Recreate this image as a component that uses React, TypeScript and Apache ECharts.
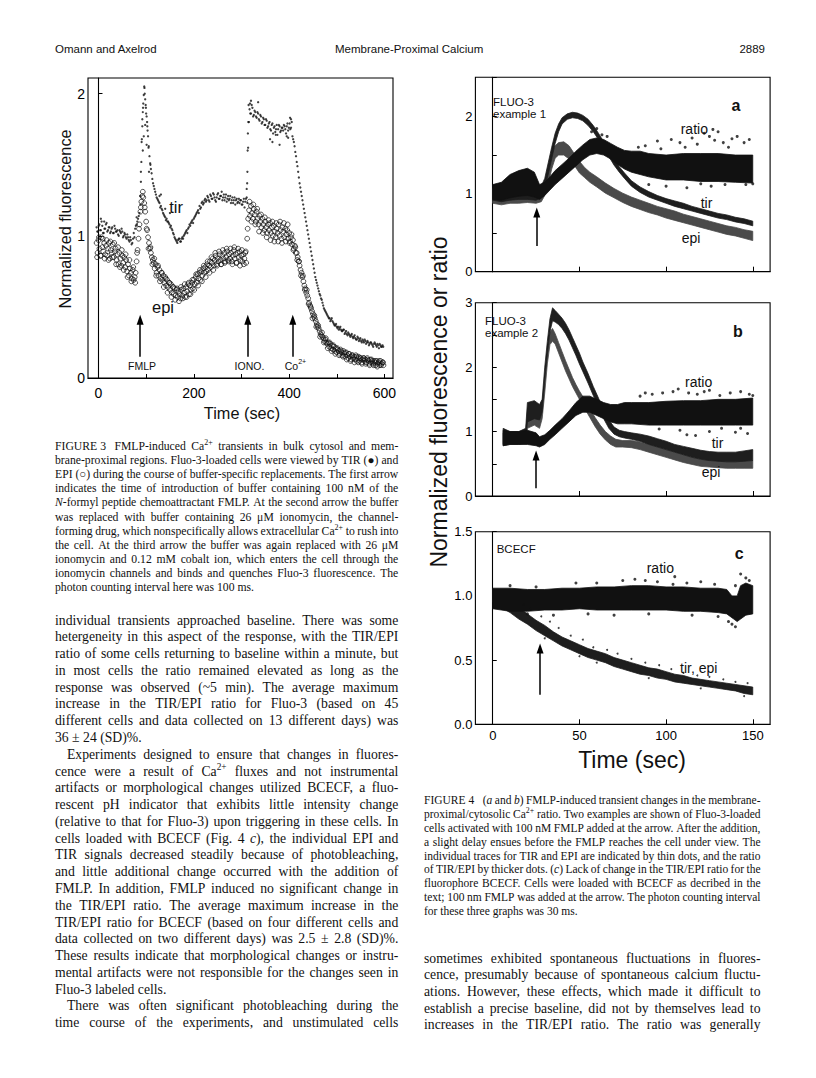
import React, { useEffect, useRef } from 'react';
import * as echarts from 'echarts';

const SANS = 'Liberation Sans';
const SERIF = 'Liberation Serif';

// ---------------- Figure 3 data ----------------
const fig3XTicks = [0, 100, 200, 300, 400, 500, 600];
const fig3XLabels = [0, 200, 400, 600];
const fig3YLabels = [0, 1, 2];

// TIR (filled dots), sampled every 3 s from t = -4 s
const FIG3_TIRA_T0 = -4;
const FIG3_TIR_DT = 3;
const fig3TirA = [
  1.06, 1.03, 1.08, 1.04, 1.07, 1.02, 1.05, 1.09, 1.04, 1.06,
  1.03, 1.06, 1.02, 1.05, 1.03, 1.01, 1.04, 1.02, 1.03, 1.00,
  1.01, 0.98, 0.99, 0.96, 0.97, 0.95, 1.02, 1.05, 1.08, 1.12,
  1.16, 1.45, 1.82, 1.99, 1.96, 1.84, 1.70, 1.56, 1.47, 1.40,
  1.35, 1.31, 1.27, 1.25, 1.23, 1.21, 1.18, 1.15, 1.13, 1.12,
  1.10, 1.08, 1.07, 1.04, 1.01, 0.98, 0.96, 0.97, 0.98, 0.96,
  0.99, 1.00, 1.02, 1.04, 1.05, 1.08, 1.09, 1.11, 1.12, 1.14,
  1.16, 1.18, 1.21, 1.20, 1.24, 1.23, 1.26, 1.25, 1.27, 1.24,
  1.28, 1.26, 1.29, 1.25, 1.27, 1.30, 1.26, 1.28, 1.25, 1.29,
  1.27, 1.24, 1.28, 1.26, 1.23, 1.27, 1.25, 1.22, 1.26, 1.24,
  1.23, 1.25, 1.22, 1.26, 1.24, 1.27, 1.62, 1.89, 1.86, 1.90,
  1.85, 1.87, 1.83, 1.86, 1.81, 1.84, 1.80, 1.82, 1.78, 1.81,
  1.77, 1.80, 1.74, 1.79, 1.76, 1.73, 1.78, 1.75, 1.77, 1.74,
  1.76, 1.78, 1.75, 1.77, 1.74, 1.79, 1.76, 1.70, 1.66, 1.59,
  1.52, 1.45, 1.37, 1.31, 1.25, 1.19, 1.13, 1.07, 1.01, 0.95,
  0.89, 0.83, 0.77, 0.71, 0.67, 0.63, 0.59, 0.56, 0.53, 0.49,
  0.47, 0.45, 0.43, 0.42, 0.41, 0.40, 0.38, 0.37, 0.36, 0.36,
  0.35, 0.34, 0.33, 0.34, 0.32, 0.31, 0.32, 0.30, 0.30, 0.29,
  0.29, 0.28, 0.27, 0.28, 0.27, 0.26, 0.27, 0.25, 0.26, 0.25,
  0.25, 0.24, 0.25, 0.23, 0.24, 0.24, 0.22, 0.23, 0.24, 0.22,
  0.23,
];
// second reading of the TIR band, every 3 s from t = -2.5 s
const FIG3_TIRB_T0 = -2.5;
const fig3TirB = [
  1.03, 1.07, 1.04, 1.10, 1.02, 1.05, 1.08, 1.03, 1.06, 1.02,
  1.05, 1.02, 1.07, 1.03, 1.04, 1.00, 1.03, 1.05, 0.99, 1.02,
  0.99, 1.01, 0.97, 0.99, 0.94, 0.98, 0.99, 1.07, 1.10, 1.14,
  1.28, 1.66, 1.90, 2.04, 1.90, 1.77, 1.63, 1.51, 1.44, 1.37,
  1.33, 1.29, 1.26, 1.24, 1.20, 1.19, 1.16, 1.14, 1.11, 1.10,
  1.09, 1.06, 1.05, 1.02, 0.99, 0.97, 0.95, 0.98, 0.96, 0.98,
  0.98, 1.01, 1.03, 1.02, 1.06, 1.07, 1.10, 1.09, 1.13, 1.15,
  1.17, 1.16, 1.19, 1.23, 1.22, 1.25, 1.24, 1.28, 1.25, 1.29,
  1.26, 1.30, 1.27, 1.24, 1.29, 1.26, 1.28, 1.31, 1.27, 1.25,
  1.29, 1.26, 1.25, 1.28, 1.25, 1.23, 1.27, 1.25, 1.23, 1.26,
  1.25, 1.22, 1.24, 1.20, 1.26, 1.23, 1.80, 1.86, 1.92, 1.84,
  1.88, 1.84, 1.87, 1.82, 1.85, 1.79, 1.83, 1.78, 1.82, 1.76,
  1.79, 1.75, 1.78, 1.72, 1.77, 1.75, 1.71, 1.78, 1.73, 1.76,
  1.74, 1.77, 1.72, 1.79, 1.76, 1.75, 1.80, 1.68, 1.63, 1.56,
  1.49, 1.41, 1.34, 1.28, 1.22, 1.16, 1.10, 1.04, 0.98, 0.92,
  0.86, 0.80, 0.74, 0.69, 0.65, 0.61, 0.58, 0.55, 0.51, 0.48,
  0.46, 0.44, 0.42, 0.40, 0.42, 0.39, 0.37, 0.38, 0.35, 0.34,
  0.36, 0.33, 0.34, 0.31, 0.33, 0.30, 0.31, 0.29, 0.31, 0.28,
  0.30, 0.27, 0.29, 0.26, 0.28, 0.25, 0.26, 0.27, 0.24, 0.26,
  0.23, 0.25, 0.24, 0.22, 0.25, 0.23, 0.24, 0.21, 0.23, 0.22,
  0.22,
];
// isolated TIR dots in the fast transitions and outliers [t, value]
const fig3TirExtra = [
  [88, 1.22], [89, 1.38], [90, 1.52], [91, 1.68], [92, 1.77], [93, 1.87], [94, 1.93],
  [96, 2.05], [97, 2.0], [99, 1.92], [100, 1.86], [102, 1.8], [103, 1.74], [105, 1.62],
  [93, 1.6], [95, 1.7], [98, 1.78], [101, 1.64], [106, 1.45], [109, 1.5],
  [311, 1.33], [312, 1.37], [312.5, 1.45], [313, 1.6], [313.5, 1.72], [314.5, 1.8],
  [315, 1.92], [318, 1.93], [320, 1.95], [335, 1.94],
  [5, 1.12], [12, 1.1], [80, 1.13], [150, 1.16], [140, 1.19], [128, 1.28], [131, 1.29],
  [360, 1.68], [365, 1.66], [380, 1.64], [395, 1.7], [402, 1.83], [404, 1.82], [398, 1.69], [372, 1.71],
];

// EPI (open circles), sampled every 2 s from t = -4 s
const FIG3_EPI_T0 = -4;
const FIG3_EPI_DT = 2;
const fig3Epi = [
  0.95, 0.88, 0.97, 0.91, 0.86, 0.99, 0.92, 0.89, 0.95, 0.87,
  0.93, 0.86, 0.91, 0.95, 0.84, 0.90, 0.88, 0.94, 0.85, 0.89,
  0.91, 0.83, 0.87, 0.80, 0.88, 0.84, 0.79, 0.86, 0.81, 0.85,
  0.78, 0.83, 0.75, 0.80, 0.72, 0.77, 0.74, 0.70, 0.76, 0.69,
  0.71, 0.74, 0.82, 0.90, 0.98, 1.08, 1.17, 1.24, 1.28, 1.27,
  1.23, 1.17, 1.10, 1.04, 0.99, 0.95, 0.91, 0.88, 0.85, 0.83,
  0.81, 0.77, 0.80, 0.74, 0.78, 0.72, 0.76, 0.70, 0.74, 0.69,
  0.72, 0.67, 0.71, 0.65, 0.69, 0.64, 0.67, 0.62, 0.66, 0.60,
  0.64, 0.59, 0.63, 0.58, 0.62, 0.57, 0.61, 0.59, 0.56, 0.62,
  0.58, 0.63, 0.60, 0.57, 0.64, 0.61, 0.66, 0.59, 0.65, 0.62,
  0.67, 0.63, 0.69, 0.66, 0.71, 0.67, 0.73, 0.70, 0.74, 0.69,
  0.75, 0.72, 0.77, 0.74, 0.78, 0.75, 0.80, 0.76, 0.79, 0.82,
  0.78, 0.81, 0.84, 0.79, 0.83, 0.86, 0.80, 0.84, 0.82, 0.87,
  0.83, 0.80, 0.86, 0.84, 0.88, 0.82, 0.85, 0.89, 0.83, 0.87,
  0.84, 0.88, 0.82, 0.86, 0.90, 0.84, 0.87, 0.81, 0.88, 0.85,
  0.89, 0.83, 0.86, 0.82, 0.87, 0.84, 0.88, 0.81, 0.98, 1.12,
  1.18, 1.14, 1.21, 1.16, 1.12, 1.19, 1.15, 1.10, 1.17, 1.12,
  1.08, 1.14, 1.10, 1.06, 1.12, 1.08, 1.04, 1.10, 1.06, 1.02,
  1.08, 1.04, 1.09, 1.02, 1.06, 1.00, 1.07, 1.03, 0.99, 1.05,
  1.02, 1.08, 1.00, 1.04, 0.98, 1.06, 1.03, 0.99, 1.05, 1.01,
  1.04, 0.98, 1.02, 0.96, 0.99, 0.94, 0.97, 0.91, 0.93, 0.88,
  0.88, 0.85, 0.82, 0.79, 0.76, 0.74, 0.71, 0.68, 0.65, 0.63,
  0.60, 0.58, 0.56, 0.53, 0.51, 0.49, 0.47, 0.45, 0.43, 0.42,
  0.40, 0.38, 0.36, 0.35, 0.33, 0.31, 0.30, 0.29, 0.28, 0.26,
  0.27, 0.25, 0.24, 0.25, 0.22, 0.24, 0.21, 0.23, 0.20, 0.22,
  0.19, 0.21, 0.18, 0.20, 0.19, 0.17, 0.20, 0.18, 0.16, 0.19,
  0.17, 0.15, 0.18, 0.16, 0.14, 0.17, 0.15, 0.13, 0.16, 0.14,
  0.15, 0.13, 0.16, 0.12, 0.14, 0.15, 0.12, 0.14, 0.11, 0.13,
  0.14, 0.12, 0.13, 0.11, 0.14, 0.12, 0.10, 0.13, 0.11, 0.12,
  0.10, 0.12, 0.11, 0.09, 0.12, 0.10, 0.11, 0.09, 0.12, 0.10,
  0.11, 0.09,
];
// second reading of the EPI band (its edges), every 4 s from t = -3 s
const FIG3_EPIB_T0 = -3;
const FIG3_EPIB_DT = 4;
const fig3EpiB = [
  0.85, 0.99, 0.86, 0.98, 0.84, 0.97, 0.83, 0.96, 0.85, 0.95,
  0.80, 0.92, 0.78, 0.90, 0.76, 0.87, 0.71, 0.83, 0.68, 0.78,
  0.67, 0.88, 1.05, 1.20, 1.31, 1.20, 1.05, 0.91, 0.92, 0.80,
  0.84, 0.72, 0.79, 0.68, 0.74, 0.64, 0.70, 0.60, 0.67, 0.57,
  0.64, 0.55, 0.63, 0.54, 0.64, 0.56, 0.66, 0.57, 0.67, 0.59,
  0.69, 0.62, 0.73, 0.65, 0.76, 0.68, 0.79, 0.71, 0.82, 0.74,
  0.85, 0.76, 0.88, 0.79, 0.89, 0.80, 0.90, 0.81, 0.91, 0.82,
  0.91, 0.80, 0.92, 0.81, 0.91, 0.79, 0.90, 0.80, 0.89, 1.05,
  1.24, 1.10, 1.22, 1.08, 1.19, 1.03, 1.15, 1.02, 1.13, 0.99,
  1.11, 0.97, 1.10, 0.96, 1.09, 0.96, 1.10, 0.95, 1.09, 0.96,
  1.08, 0.95, 1.01, 0.90, 0.92, 0.83, 0.82, 0.72, 0.72, 0.62,
  0.62, 0.52, 0.50, 0.42, 0.44, 0.36, 0.37, 0.29, 0.32, 0.25,
  0.28, 0.21, 0.25, 0.19, 0.23, 0.17, 0.21, 0.16, 0.19, 0.15,
  0.18, 0.13, 0.17, 0.12, 0.16, 0.11, 0.15, 0.11, 0.14, 0.10,
  0.14, 0.10, 0.13, 0.09, 0.13, 0.09, 0.12, 0.08, 0.12, 0.09,
  0.11,
];

const fig3Arrows = [
  { t: 87.4, from: 0.15, to: 0.41, label: 'FMLP' },
  { t: 313.3, from: 0.15, to: 0.41, label: 'IONO.' },
  { t: 407.7, from: 0.15, to: 0.41, label: 'Co^{2+}' },
];

// ---------------- Figure 4 data ----------------
const fig4XTicks = [0, 50, 100, 150];

// bands [t, low edge, high edge] read from the dot clouds
const fig4aTir = [
  [0, 0.92, 1.08], [5, 0.9, 1.1], [10, 0.92, 1.12], [15, 0.93, 1.14], [20, 0.93, 1.15], [25, 0.92, 1.12],
  [28, 0.95, 1.1], [30, 1.08, 1.2], [32, 1.25, 1.4], [34, 1.45, 1.6], [36, 1.65, 1.78], [38, 1.8, 1.9],
  [40, 1.9, 1.98], [43, 1.96, 2.03], [46, 1.98, 2.05], [49, 1.97, 2.04], [52, 1.94, 2.01], [55, 1.88, 1.96],
  [58, 1.8, 1.88], [61, 1.7, 1.78], [64, 1.6, 1.67], [67, 1.48, 1.56], [70, 1.37, 1.45], [73, 1.28, 1.35],
  [76, 1.2, 1.27], [80, 1.1, 1.17], [85, 1.02, 1.09], [90, 0.96, 1.03], [95, 0.92, 0.98], [100, 0.88, 0.94],
  [105, 0.84, 0.91], [110, 0.81, 0.88], [115, 0.78, 0.84], [120, 0.75, 0.81], [125, 0.72, 0.78],
  [130, 0.69, 0.75], [135, 0.67, 0.73], [140, 0.64, 0.7], [145, 0.62, 0.68], [150, 0.59, 0.65],
];
const fig4aEpi = [
  [0, 0.88, 1.06], [5, 0.86, 1.08], [10, 0.88, 1.1], [15, 0.88, 1.12], [20, 0.89, 1.12], [25, 0.88, 1.08],
  [28, 0.9, 1.06], [30, 0.98, 1.15], [32, 1.12, 1.35], [34, 1.32, 1.52], [36, 1.46, 1.62], [38, 1.5, 1.66],
  [41, 1.5, 1.67], [44, 1.45, 1.62], [47, 1.37, 1.52], [50, 1.27, 1.42], [53, 1.21, 1.34], [56, 1.15, 1.28],
  [60, 1.09, 1.22], [65, 1.01, 1.14], [70, 0.95, 1.07], [75, 0.89, 1.01], [80, 0.84, 0.96], [85, 0.8, 0.92],
  [90, 0.76, 0.88], [95, 0.73, 0.84], [100, 0.69, 0.81], [105, 0.66, 0.78], [110, 0.63, 0.74],
  [115, 0.6, 0.71], [120, 0.57, 0.68], [125, 0.54, 0.65], [130, 0.51, 0.62], [135, 0.48, 0.59],
  [140, 0.46, 0.57], [145, 0.43, 0.54], [150, 0.4, 0.52],
];
const fig4aRatio = [
  [0, 0.93, 1.12], [5, 0.92, 1.15], [10, 0.95, 1.25], [15, 0.97, 1.3], [20, 0.98, 1.33], [24, 0.96, 1.28],
  [27, 0.93, 1.12], [30, 0.98, 1.15], [33, 1.05, 1.22], [36, 1.12, 1.3], [40, 1.2, 1.38], [44, 1.28, 1.46],
  [48, 1.36, 1.55], [52, 1.44, 1.63], [56, 1.5, 1.7], [60, 1.52, 1.72], [64, 1.5, 1.7], [68, 1.45, 1.65],
  [72, 1.38, 1.6], [76, 1.32, 1.56], [80, 1.28, 1.55], [85, 1.25, 1.55], [90, 1.22, 1.52], [100, 1.18, 1.5],
  [110, 1.18, 1.52], [120, 1.16, 1.52], [130, 1.16, 1.52], [140, 1.15, 1.5], [150, 1.14, 1.5],
];
const fig4aRatioDots = [
  [57, 1.8], [60, 1.84], [63, 1.76], [66, 1.74], [88, 1.62], [95, 1.68], [103, 1.7], [108, 1.66],
  [115, 1.72], [118, 1.64], [122, 1.78], [125, 1.74], [127, 1.83], [128, 1.69], [130, 1.8], [133, 1.66],
  [138, 1.71], [141, 1.74], [145, 1.66], [148, 1.7], [100, 1.1], [112, 1.08], [126, 1.1], [146, 1.12],
  [150, 1.13], [90, 1.12], [120, 1.13], [134, 1.12], [84, 1.6], [97, 1.58], [111, 1.6], [136, 1.6],
];

const fig4bTir = [
  [6, 0.8, 1.05], [10, 0.82, 1.0], [15, 0.83, 1.0], [19, 0.85, 1.05], [20, 1.15, 1.45], [24, 1.2, 1.48],
  [27, 1.18, 1.42], [28.5, 1.3, 1.5], [30, 1.8, 2.0], [31.5, 2.2, 2.4], [33, 2.55, 2.75], [34.5, 2.72, 2.92],
  [36, 2.7, 2.88], [38, 2.66, 2.82], [40, 2.6, 2.76], [42, 2.52, 2.68], [44, 2.42, 2.58], [46, 2.3, 2.46],
  [48, 2.18, 2.34], [50, 2.05, 2.22], [52, 1.93, 2.08], [55, 1.75, 1.9], [58, 1.56, 1.7], [61, 1.38, 1.52],
  [64, 1.2, 1.34], [67, 1.05, 1.18], [70, 0.96, 1.07], [73, 0.92, 1.02], [76, 0.9, 1.0], [80, 0.88, 0.98],
  [85, 0.85, 0.96], [90, 0.8, 0.93], [95, 0.76, 0.89], [100, 0.72, 0.85], [105, 0.68, 0.8], [110, 0.64, 0.77],
  [115, 0.6, 0.74], [120, 0.57, 0.71], [125, 0.55, 0.69], [130, 0.54, 0.68], [135, 0.53, 0.68],
  [140, 0.53, 0.68], [145, 0.54, 0.7], [150, 0.55, 0.72],
];
const fig4bEpi = [
  [6, 0.78, 0.98], [10, 0.8, 0.96], [15, 0.8, 0.95], [19, 0.82, 0.98], [20, 1.05, 1.3], [24, 1.1, 1.38],
  [27, 1.05, 1.3], [28.5, 1.2, 1.4], [30, 1.6, 1.8], [31.5, 2.05, 2.25], [33, 2.35, 2.55], [34.5, 2.4, 2.6],
  [36, 2.36, 2.52], [38, 2.22, 2.38], [40, 2.08, 2.24], [42, 1.94, 2.1], [44, 1.82, 1.97], [46, 1.7, 1.84],
  [48, 1.6, 1.73], [50, 1.5, 1.63], [53, 1.36, 1.5], [56, 1.22, 1.36], [59, 1.08, 1.22], [62, 0.96, 1.1],
  [65, 0.87, 1.0], [68, 0.8, 0.93], [71, 0.76, 0.88], [75, 0.76, 0.86], [80, 0.75, 0.86], [85, 0.72, 0.84],
  [90, 0.68, 0.8], [95, 0.64, 0.76], [100, 0.6, 0.72], [105, 0.56, 0.68], [110, 0.52, 0.64], [115, 0.49, 0.6],
  [120, 0.46, 0.57], [125, 0.45, 0.56], [130, 0.44, 0.55], [135, 0.43, 0.54], [140, 0.43, 0.54],
  [145, 0.43, 0.55], [150, 0.43, 0.55],
];
const fig4bRatio = [
  [6, 0.78, 1.02], [10, 0.8, 1.0], [15, 0.8, 1.0], [20, 0.8, 1.02], [25, 0.78, 0.98], [27, 0.76, 0.92],
  [30, 0.8, 0.95], [33, 0.88, 1.02], [36, 0.95, 1.1], [40, 1.05, 1.2], [44, 1.15, 1.32], [48, 1.25, 1.45],
  [52, 1.3, 1.55], [56, 1.3, 1.55], [60, 1.25, 1.5], [64, 1.2, 1.45], [68, 1.15, 1.42], [72, 1.12, 1.42],
  [76, 1.12, 1.45], [80, 1.12, 1.45], [90, 1.1, 1.45], [100, 1.1, 1.47], [110, 1.1, 1.48], [120, 1.1, 1.48],
  [130, 1.1, 1.5], [140, 1.1, 1.5], [150, 1.1, 1.52],
];
const fig4bRatioDots = [
  [85, 1.55], [92, 1.58], [98, 1.6], [104, 1.62], [107, 1.66], [113, 1.6], [118, 1.58], [125, 1.64],
  [131, 1.56], [137, 1.6], [143, 1.62], [148, 1.58], [150, 1.56], [112, 0.95], [117, 0.94], [125, 1.0],
  [132, 1.05], [140, 0.99], [143, 1.05], [108, 1.02], [96, 1.04], [147, 0.97], [88, 1.6], [122, 1.62],
];

const fig4cRatio = [
  [0, 0.9, 1.06], [10, 0.88, 1.06], [20, 0.88, 1.05], [30, 0.89, 1.05], [40, 0.89, 1.06], [50, 0.9, 1.06],
  [60, 0.89, 1.07], [70, 0.89, 1.07], [80, 0.89, 1.08], [90, 0.89, 1.08], [100, 0.89, 1.07],
  [110, 0.88, 1.07], [120, 0.88, 1.06], [130, 0.87, 1.06], [135, 0.86, 1.05], [138, 0.83, 1.0],
  [141, 0.8, 1.0], [143, 0.82, 1.08], [146, 0.85, 1.1], [150, 0.86, 1.08],
];
const fig4cRatioDots = [
  [10, 1.08], [25, 1.07], [48, 1.1], [60, 1.1], [75, 1.12], [82, 1.13], [88, 1.12], [95, 1.11], [105, 1.15],
  [112, 1.1], [120, 1.11], [128, 1.09], [140, 1.08], [143, 1.17], [146, 1.14], [148, 1.12], [138, 0.78],
  [136, 0.8], [140, 0.76], [20, 0.86], [35, 0.85], [55, 0.86], [70, 0.85], [90, 0.86], [115, 0.85],
  [130, 0.84], [104, 1.09],
];
const fig4cTirEpi = [
  [0, 0.95, 1.05], [5, 0.91, 1.0], [10, 0.87, 0.96], [15, 0.82, 0.91], [20, 0.78, 0.86], [25, 0.73, 0.81],
  [30, 0.69, 0.77], [35, 0.65, 0.72], [40, 0.61, 0.68], [45, 0.58, 0.65], [50, 0.55, 0.62], [55, 0.52, 0.59],
  [60, 0.5, 0.57], [65, 0.48, 0.55], [70, 0.45, 0.52], [75, 0.43, 0.5], [80, 0.41, 0.48], [85, 0.39, 0.46],
  [90, 0.38, 0.44], [95, 0.36, 0.43], [100, 0.35, 0.41], [105, 0.33, 0.39], [110, 0.32, 0.38],
  [115, 0.31, 0.36], [120, 0.3, 0.35], [125, 0.29, 0.34], [130, 0.28, 0.33], [135, 0.27, 0.32],
  [140, 0.26, 0.31], [145, 0.24, 0.3], [150, 0.23, 0.29],
];
const fig4cTirEpiDots = [
  [18, 0.93], [22, 0.9], [28, 0.84], [33, 0.8], [38, 0.75], [45, 0.69], [52, 0.66], [58, 0.6], [66, 0.58],
  [72, 0.55], [80, 0.51], [88, 0.48], [96, 0.46], [103, 0.43], [110, 0.4], [118, 0.38], [125, 0.37],
  [133, 0.35], [140, 0.33], [147, 0.32], [60, 0.48], [90, 0.36], [120, 0.28], [145, 0.22], [30, 0.67], [50, 0.53],
];

const fig4Arrows = [
  { panel: 0, t: 25.4, from: 0.33, to: 0.76 },
  { panel: 1, t: 25, from: 0.12, to: 0.63 },
  { panel: 2, t: 27.3, from: 0.23, to: 0.59 },
];

// ---------------- Text ----------------
const header = ['Omann and Axelrod', 'Membrane-Proximal Calcium', '2889'];

const fig3Caption = [
  'FIGURE\u00a03\u00a0 FMLP-induced Ca^{2+} transients in bulk cytosol and mem-',
  'brane-proximal regions. Fluo-3-loaded cells were viewed by TIR (\u25cf) and',
  'EPI (\u25cb) during the course of buffer-specific replacements. The first arrow',
  'indicates the time of introduction of buffer containing 100 nM of the',
  '_{N}-formyl peptide chemoattractant FMLP. At the second arrow the buffer',
  'was replaced with buffer containing 26 \u03bcM ionomycin, the channel-',
  'forming drug, which nonspecifically allows extracellular Ca^{2+} to rush into',
  'the cell. At the third arrow the buffer was again replaced with 26 \u03bcM',
  'ionomycin and 0.12 mM cobalt ion, which enters the cell through the',
  'ionomycin channels and binds and quenches Fluo-3 fluorescence. The',
  'photon counting interval here was 100 ms.\u00b6',
];

const fig4Caption = [
  'FIGURE\u00a04\u00a0\u00a0\u00a0(_{a} and _{b}) FMLP-induced transient changes in the membrane-',
  'proximal/cytosolic Ca^{2+} ratio. Two examples are shown of Fluo-3-loaded',
  'cells activated with 100 nM FMLP added at the arrow. After the addition,',
  'a slight delay ensues before the FMLP reaches the cell under view. The',
  'individual traces for TIR and EPI are indicated by thin dots, and the ratio',
  'of TIR/EPI by thicker dots. (_{c}) Lack of change in the TIR/EPI ratio for the',
  'fluorophore BCECF. Cells were loaded with BCECF as decribed in the',
  'text; 100 nm FMLP was added at the arrow. The photon counting interval',
  'for these three graphs was 30 ms.\u00b6',
];

const leftBody = [
  'individual transients approached baseline. There was some',
  'hetergeneity in this aspect of the response, with the TIR/EPI',
  'ratio of some cells returning to baseline within a minute, but',
  'in most cells the ratio remained elevated as long as the',
  'response was observed (~5 min). The average maximum',
  'increase in the TIR/EPI ratio for Fluo-3 (based on 45',
  'different cells and data collected on 13 different days) was',
  '36 \u00b1 24 (SD)%.\u00b6',
  '\u00bbExperiments designed to ensure that changes in fluores-',
  'cence were a result of Ca^{2+} fluxes and not instrumental',
  'artifacts or morphological changes utilized BCECF, a fluo-',
  'rescent pH indicator that exhibits little intensity change',
  '(relative to that for Fluo-3) upon triggering in these cells. In',
  'cells loaded with BCECF (Fig. 4 _{c}), the individual EPI and',
  'TIR signals decreased steadily because of photobleaching,',
  'and little additional change occurred with the addition of',
  'FMLP. In addition, FMLP induced no significant change in',
  'the TIR/EPI ratio. The average maximum increase in the',
  'TIR/EPI ratio for BCECF (based on four different cells and',
  'data collected on two different days) was 2.5 \u00b1 2.8 (SD)%.',
  'These results indicate that morphological changes or instru-',
  'mental artifacts were not responsible for the changes seen in',
  'Fluo-3 labeled cells.\u00b6',
  '\u00bbThere was often significant photobleaching during the',
  'time course of the experiments, and unstimulated cells',
];

const rightBody = [
  'sometimes exhibited spontaneous fluctuations in fluores-',
  'cence, presumably because of spontaneous calcium fluctu-',
  'ations. However, these effects, which made it difficult to',
  'establish a precise baseline, did not by themselves lead to',
  'increases in the TIR/EPI ratio. The ratio was generally',
];

// ---------------- helpers ----------------
type Seg = { text: string; kind: 'n' | 'sup' | 'it' };

function parseSegs(s: string): Seg[] {
  const out: Seg[] = [];
  let buf = '';
  let i = 0;
  while (i < s.length) {
    if ((s[i] === '^' || s[i] === '_') && s[i + 1] === '{') {
      if (buf) { out.push({ text: buf, kind: 'n' }); buf = ''; }
      const end = s.indexOf('}', i);
      out.push({ text: s.slice(i + 2, end), kind: s[i] === '^' ? 'sup' : 'it' });
      i = end + 1;
    } else {
      buf += s[i];
      i++;
    }
  }
  if (buf) out.push({ text: buf, kind: 'n' });
  return out;
}

let ctx: CanvasRenderingContext2D | null = null;
function measure(text: string, size: number, family: string, italic: boolean, bold = false) {
  if (!ctx) ctx = document.createElement('canvas').getContext('2d');
  ctx!.font = `${italic ? 'italic ' : ''}${bold ? 'bold ' : ''}${size}px ${family}`;
  return ctx!.measureText(text).width;
}

function textEl(x: number, y: number, text: string, size: number, family: string, o: any = {}) {
  return {
    type: 'text',
    x,
    y,
    z: 100,
    silent: true,
    rotation: o.rotation || 0,
    style: {
      text,
      fontSize: size,
      fontFamily: family,
      fontStyle: o.italic ? 'italic' : 'normal',
      fontWeight: o.bold ? 'bold' : 'normal',
      fill: o.color || '#111',
      textAlign: o.align || 'left',
      textVerticalAlign: 'middle',
      verticalAlign: 'middle',
    },
  };
}

function segWidth(sg: Seg, size: number, family: string) {
  const sz = sg.kind === 'sup' ? size * 0.68 : size;
  return measure(sg.text, sz, family, sg.kind === 'it');
}

function pushSegs(els: any[], segs: Seg[], x: number, y: number, size: number, family: string) {
  let sx = x;
  for (const sg of segs) {
    const w = segWidth(sg, size, family);
    if (sg.kind === 'sup') {
      els.push(textEl(sx, y - size * 0.32, sg.text, size * 0.68, family));
    } else {
      els.push(textEl(sx, y, sg.text, size, family, { italic: sg.kind === 'it' }));
    }
    sx += w;
  }
  return sx - x;
}

function inlineText(els: any[], str: string, x: number, y: number, size: number, family: string, align: 'left' | 'center' | 'right') {
  const segs = parseSegs(str);
  const w = segs.reduce((a, s) => a + segWidth(s, size, family), 0);
  const x0 = align === 'left' ? x : align === 'center' ? x - w / 2 : x - w;
  pushSegs(els, segs, x0, y, size, family);
}

type Line = { words: Seg[][]; indent: boolean; last: boolean };
function prepLines(lines: string[]): Line[] {
  return lines.map((raw) => {
    let line = raw;
    let indent = false;
    let last = false;
    if (line.startsWith('\u00bb')) { indent = true; line = line.slice(1); }
    if (line.endsWith('\u00b6')) { last = true; line = line.slice(0, -1); }
    const words = line.split(' ').filter((w) => w.length > 0).map((w) => parseSegs(w));
    return { words, indent, last };
  });
}

function justifiedBlock(els: any[], lines: string[], x0: number, x1: number, y0: number, dy: number, size0: number, family: string, indent: number) {
  const prepared = prepLines(lines);
  // shrink the font of the block if a line would not fit with reasonable spaces
  let size = size0;
  prepared.forEach((ln) => {
    const sp = measure(' ', size0, family, false);
    const total = ln.words.reduce((a, ss) => a + ss.reduce((b, s) => b + segWidth(s, size0, family), 0), 0);
    const need = total + (ln.words.length - 1) * sp * 0.85 + (ln.indent ? indent : 0);
    const avail = x1 - x0;
    if (need > avail) size = Math.min(size, (size0 * avail) / need);
  });
  const spaceW = measure(' ', size, family, false);
  prepared.forEach((ln, li) => {
    const ind = ln.indent ? indent : 0;
    const widths = ln.words.map((ss) => ss.reduce((a, s) => a + segWidth(s, size, family), 0));
    const total = widths.reduce((a, b) => a + b, 0);
    const n = ln.words.length;
    const gap = ln.last || n < 2 ? spaceW : (x1 - x0 - ind - total) / (n - 1);
    let x = x0 + ind;
    const y = y0 + li * dy;
    ln.words.forEach((ss, wi) => {
      pushSegs(els, ss, x, y, size, family);
      x += widths[wi] + gap;
    });
  });
}

function bandSeries(band: number[][], axis: number, fill: string) {
  return {
    type: 'custom',
    xAxisIndex: axis,
    yAxisIndex: axis,
    silent: true,
    clip: true,
    data: band,
    encode: { x: 0, y: [1, 2] },
    renderItem: (params: any, api: any) => {
      if (params.dataIndex !== 0) return null;
      const pts: number[][] = [];
      for (const d of band) pts.push(api.coord([d[0], d[2]]));
      for (let i = band.length - 1; i >= 0; i--) pts.push(api.coord([band[i][0], band[i][1]]));
      return { type: 'polygon', shape: { points: pts }, style: { fill, stroke: fill, lineWidth: 0.8 } };
    },
  };
}

function dotSeries(data: number[][], axis: number, size: number, extra: any = {}) {
  return {
    type: 'scatter',
    xAxisIndex: axis,
    yAxisIndex: axis,
    silent: true,
    data,
    symbolSize: size,
    itemStyle: { color: '#111' },
    ...extra,
  };
}

function arrowMark(list: { t: number; from: number; to: number }[]) {
  return {
    silent: true,
    symbol: ['none', 'triangle'],
    symbolSize: [7, 10],
    label: { show: false },
    lineStyle: { color: '#000', width: 1.5, type: 'solid' },
    emphasis: { disabled: true },
    data: list.map((a) => [{ coord: [a.t, a.from] }, { coord: [a.t, a.to] }]),
  };
}

const toPts = (t0: number, dt: number, vals: number[]) => vals.map((v, i) => [t0 + i * dt, v]);

export default function App() {
  const ref = useRef<HTMLDivElement>(null);

  useEffect(() => {
    if (!ref.current) return;
    const chart = echarts.init(ref.current, undefined, { renderer: 'svg' });

    const axisLine = { show: true, lineStyle: { color: '#000', width: 1.1 } };
    const tick = { show: true, inside: true, length: 4, lineStyle: { color: '#000', width: 1 } };

    const fig4Grids = [
      { left: 475.4, top: 77.3, width: 294.7, height: 194.4 },
      { left: 475.4, top: 302.7, width: 294.7, height: 193.3 },
      { left: 475.4, top: 531.7, width: 294.7, height: 192.6 },
    ];
    const grids = [{ left: 88, top: 78, width: 305, height: 300 }, ...fig4Grids].map((g) => ({
      ...g,
      show: true,
      borderColor: '#000',
      borderWidth: 1.1,
      backgroundColor: 'transparent',
      containLabel: false,
      outerBoundsMode: 'none',
    }));

    const xAxes: any[] = [
      {
        type: 'value', gridIndex: 0, min: -22, max: 618, axisLine, splitLine: { show: false },
        axisTick: { ...tick, customValues: fig3XTicks },
        axisLabel: { customValues: fig3XLabels, fontSize: 14, fontFamily: SANS, color: '#000', margin: 8 },
      },
      ...[1, 2, 3].map((gi) => ({
        type: 'value', gridIndex: gi, min: -10, max: 160, axisLine, splitLine: { show: false },
        axisTick: { ...tick, length: 5, customValues: fig4XTicks },
        axisLabel: gi === 3
          ? { customValues: fig4XTicks, fontSize: 13, fontFamily: SANS, color: '#000', margin: 5 }
          : { show: false },
      })),
    ];

    const intLabel = (v: number) => (Math.abs(v - Math.round(v)) < 1e-6 ? String(Math.round(v)) : '');
    const yAxes: any[] = [
      {
        type: 'value', gridIndex: 0, min: 0, max: 2.11, axisLine, splitLine: { show: false },
        axisTick: { ...tick, customValues: fig3YLabels },
        axisLabel: { customValues: fig3YLabels, fontSize: 14, fontFamily: SANS, color: '#000', margin: 3 },
      },
      {
        type: 'value', gridIndex: 1, min: 0, max: 2.5, interval: 0.5, axisLine, splitLine: { show: false },
        axisTick: tick,
        axisLabel: { fontSize: 13, fontFamily: SANS, color: '#000', margin: 3, formatter: intLabel },
      },
      {
        type: 'value', gridIndex: 2, min: 0, max: 3, interval: 0.5, axisLine, splitLine: { show: false },
        axisTick: tick,
        axisLabel: { fontSize: 13, fontFamily: SANS, color: '#000', margin: 3, formatter: intLabel },
      },
      {
        type: 'value', gridIndex: 3, min: 0, max: 1.5, interval: 0.5, axisLine, splitLine: { show: false },
        axisTick: tick,
        axisLabel: { fontSize: 13, fontFamily: SANS, color: '#000', margin: 3, formatter: (v: number) => v.toFixed(1) },
      },
    ];

    const openCircle = { itemStyle: { color: 'rgba(255,255,255,0)', borderColor: '#111', borderWidth: 0.9 } };
    const series: any[] = [
      // Figure 3
      dotSeries(toPts(FIG3_EPI_T0, FIG3_EPI_DT, fig3Epi), 0, 4.8, { ...openCircle, markLine: arrowMark(fig3Arrows) }),
      dotSeries(toPts(FIG3_EPIB_T0, FIG3_EPIB_DT, fig3EpiB), 0, 4.8, openCircle),
      dotSeries(toPts(FIG3_TIRA_T0, FIG3_TIR_DT, fig3TirA), 0, 2.3),
      dotSeries(toPts(FIG3_TIRB_T0, FIG3_TIR_DT, fig3TirB), 0, 2.3),
      dotSeries(fig3TirExtra, 0, 2.3),
      // Figure 4a
      bandSeries(fig4aEpi, 1, '#4a4a4a'),
      bandSeries(fig4aTir, 1, '#1e1e1e'),
      bandSeries(fig4aRatio, 1, '#111'),
      dotSeries(fig4aRatioDots, 1, 3, { markLine: arrowMark(fig4Arrows.filter((a) => a.panel === 0)) }),
      // Figure 4b
      bandSeries(fig4bEpi, 2, '#4a4a4a'),
      bandSeries(fig4bTir, 2, '#1e1e1e'),
      bandSeries(fig4bRatio, 2, '#111'),
      dotSeries(fig4bRatioDots, 2, 3, { markLine: arrowMark(fig4Arrows.filter((a) => a.panel === 1)) }),
      // Figure 4c
      bandSeries(fig4cTirEpi, 3, '#1e1e1e'),
      bandSeries(fig4cRatio, 3, '#111'),
      dotSeries(fig4cTirEpiDots, 3, 2),
      dotSeries(fig4cRatioDots, 3, 3, { markLine: arrowMark(fig4Arrows.filter((a) => a.panel === 2)) }),
    ];

    // graphic texts
    const els: any[] = [];
    els.push(textEl(55, 48.7, header[0], 11.5, SANS));
    els.push(textEl(335, 48.7, header[1], 11.5, SANS));
    els.push(textEl(765, 48.7, header[2], 11.5, SANS, { align: 'right' }));

    // Figure 3 annotations
    els.push(textEl(65, 219, 'Normalized fluorescence', 16.3, SANS, { align: 'center', rotation: Math.PI / 2 }));
    els.push(textEl(242, 413, 'Time (sec)', 16.3, SANS, { align: 'center' }));
    els.push(textEl(176, 206.7, 'tir', 16.5, SANS, { align: 'center' }));
    els.push(textEl(163, 306.7, 'epi', 16.5, SANS, { align: 'center' }));
    const fig3LabelX = [142, 249.5, 295.5];
    fig3Arrows.forEach((a, i) => inlineText(els, a.label, fig3LabelX[i], 365.7, 10.5, SANS, 'center'));

    // Figure 4 annotations
    els.push(textEl(439, 402, 'Normalized fluorescence or ratio', 23, SANS, { align: 'center', rotation: Math.PI / 2 }));
    els.push(textEl(632, 760, 'Time (sec)', 23, SANS, { align: 'center' }));
    els.push(textEl(493, 101.7, 'FLUO-3', 11.5, SANS));
    els.push(textEl(493, 113.5, 'example 1', 11.5, SANS));
    els.push(textEl(736, 105, 'a', 16, SANS, { bold: true, align: 'center' }));
    els.push(textEl(680.7, 129.3, 'ratio', 14, SANS));
    els.push(textEl(700.7, 203.3, 'tir', 14, SANS));
    els.push(textEl(681.7, 238.3, 'epi', 14, SANS));
    els.push(textEl(485, 320.5, 'FLUO-3', 11.5, SANS));
    els.push(textEl(485, 332.5, 'example 2', 11.5, SANS));
    els.push(textEl(738, 331.7, 'b', 16, SANS, { bold: true, align: 'center' }));
    els.push(textEl(685, 381.7, 'ratio', 14, SANS));
    els.push(textEl(711.7, 442.7, 'tir', 14, SANS));
    els.push(textEl(701.7, 471.7, 'epi', 14, SANS));
    els.push(textEl(496.7, 549.3, 'BCECF', 11.5, SANS));
    els.push(textEl(739.3, 553.3, 'c', 16, SANS, { bold: true, align: 'center' }));
    els.push(textEl(646.7, 568.3, 'ratio', 14, SANS));
    els.push(textEl(680, 668.3, 'tir, epi', 14, SANS));

    // captions and body text
    justifiedBlock(els, fig3Caption, 55, 398.3, 446.7, 14.06, 11.7, SERIF, 12);
    justifiedBlock(els, leftBody, 55, 398.3, 620, 16.78, 13.7, SERIF, 12);
    justifiedBlock(els, fig4Caption, 424, 760.5, 800, 13.875, 11.7, SERIF, 12);
    justifiedBlock(els, rightBody, 424, 760.5, 958.3, 16.6, 13.7, SERIF, 12);

    chart.setOption({
      animation: false,
      backgroundColor: '#fff',
      grid: grids,
      xAxis: xAxes,
      yAxis: yAxes,
      series,
      graphic: { elements: els },
    });

    return () => chart.dispose();
  }, []);

  return <div ref={ref} style={{ position: 'absolute', left: 0, top: 0, width: 816, height: 1078 }} />;
}
